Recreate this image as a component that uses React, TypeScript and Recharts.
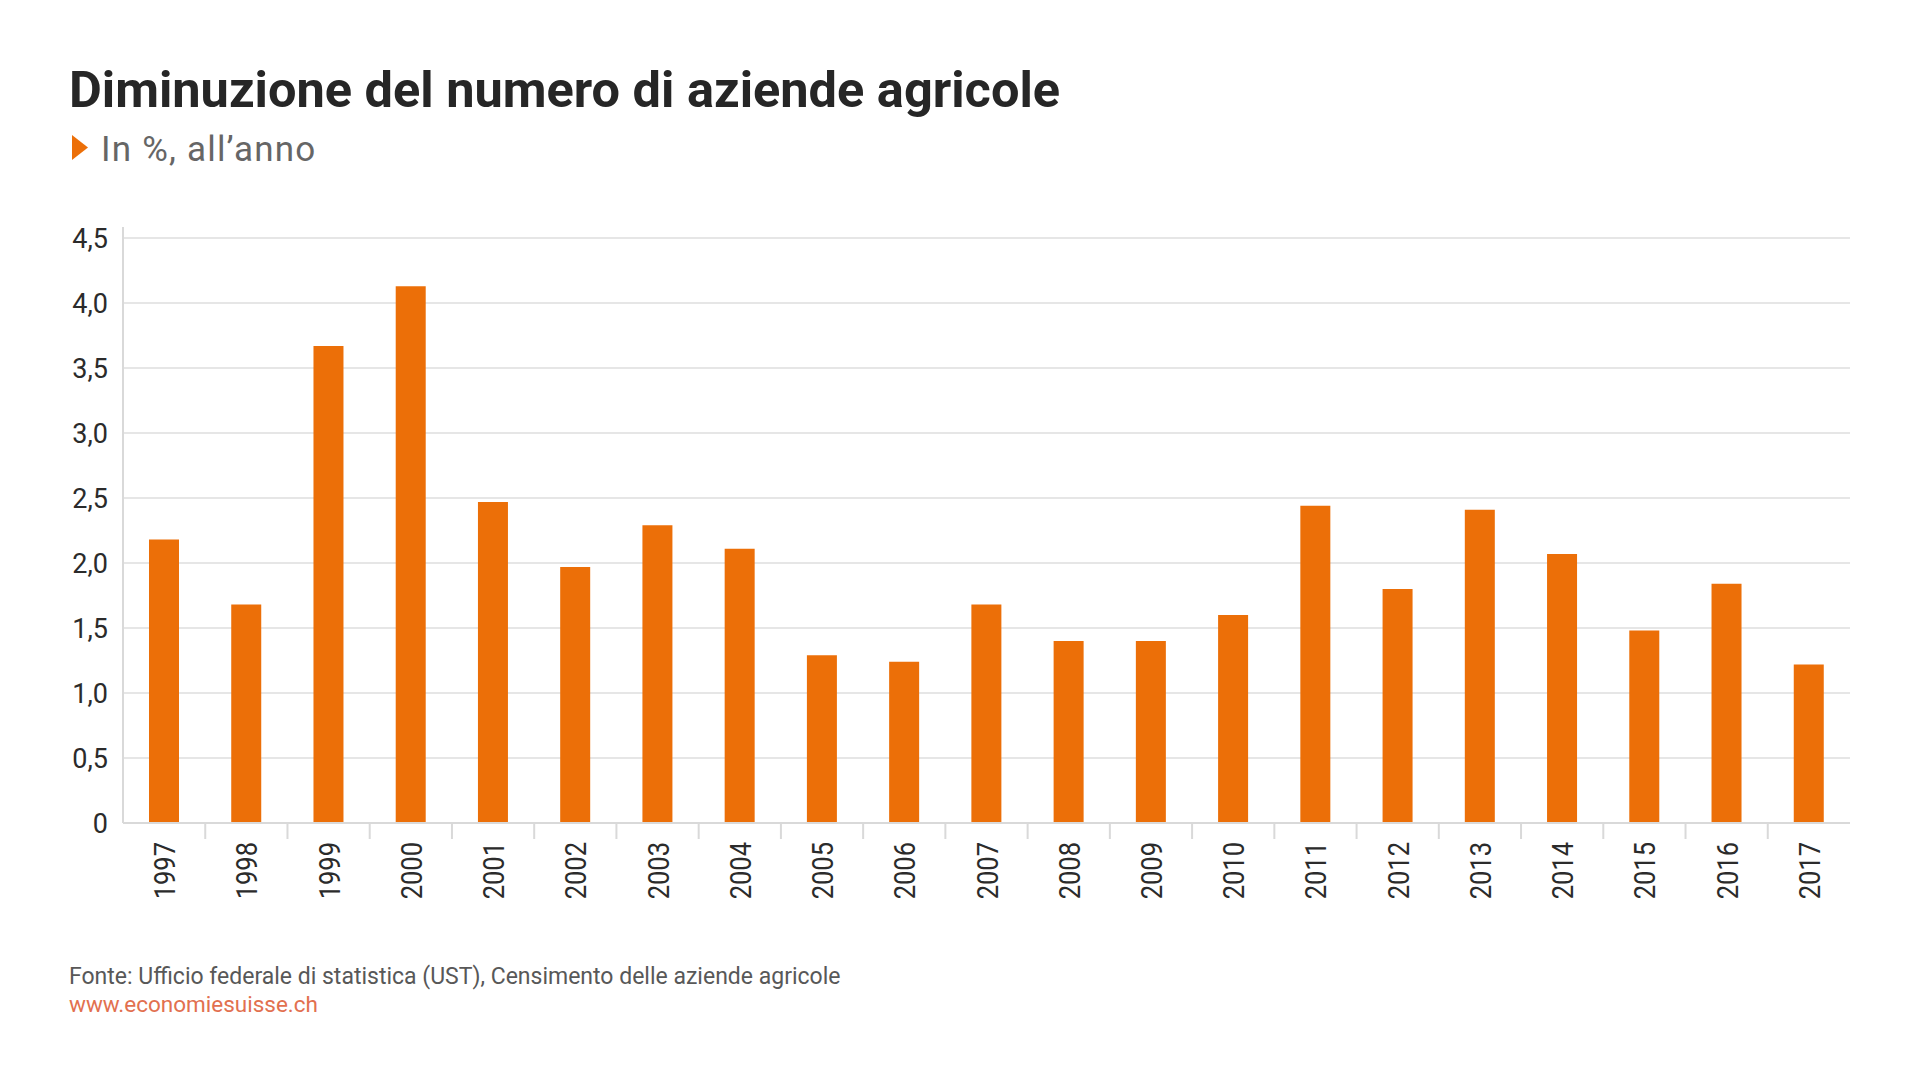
import React from "react";
import { BarChart, Bar, XAxis, YAxis, CartesianGrid } from "recharts";

const years = ["1997","1998","1999","2000","2001","2002","2003","2004","2005","2006","2007","2008","2009","2010","2011","2012","2013","2014","2015","2016","2017"];
const decline = [2.18,1.68,3.67,4.13,2.47,1.97,2.29,2.11,1.29,1.24,1.68,1.40,1.40,1.60,2.44,1.80,2.41,2.07,1.48,1.84,1.22];
const yTicks = [0,0.5,1,1.5,2,2.5,3,3.5,4,4.5];
const Y_MAX = 4.585;

const TITLE = "Diminuzione del numero di aziende agricole";
const SUBTITLE = "In %, all\u2019anno";
const SOURCE = "Fonte: Ufficio federale di statistica (UST), Censimento delle aziende agricole";
const LINK = "www.economiesuisse.ch";

const data = years.map((y, i) => ({ year: y, value: decline[i] }));

const W = 1920;
const H = 1080;
const MARGIN = { top: 227, right: 70, bottom: 157, left: 63 };
const YAXIS_W = 60;
const PLOT_W = W - MARGIN.left - MARGIN.right - YAXIS_W;
const BAND = PLOT_W / years.length;
const ORANGE = "#EC6F08";
const FONT = "Roboto, 'Noto Sans', sans-serif";

const XTick = (props: any) => {
  const { x, y, payload, index } = props;
  return (
    <g>
      {index > 0 && (
        <line x1={x - BAND / 2} x2={x - BAND / 2} y1={y} y2={y + 16} stroke="#d9d9d9" strokeWidth={2} />
      )}
      <text
        transform={`translate(${x + 11},${y + 19}) rotate(-90) scale(0.85,1)`}
        textAnchor="end"
        fontSize={30}
        fontFamily={FONT}
        fill="#2b2b2b"
      >
        {payload.value}
      </text>
    </g>
  );
};

const fmt = (v: number) => (v === 0 ? "0" : v.toFixed(1).replace(".", ","));

const gridGen = (props: any) => {
  const scale = props?.yAxis?.scale;
  const vals = yTicks.filter((v) => v > 0);
  if (typeof scale === "function") return vals.map((v) => scale(v));
  if (scale && typeof scale.map === "function") return vals.map((v) => scale.map(v));
  const off = props?.offset;
  if (off && typeof off.top === "number") {
    return vals.map((v) => off.top + off.height * (1 - v / Y_MAX));
  }
  return [];
};

export default function App() {
  return (
    <div style={{ position: "absolute", left: 0, top: 0, width: W, height: H, background: "#fff", fontFamily: FONT }}>
      <BarChart width={W} height={H} data={data} margin={MARGIN}>
        <CartesianGrid vertical={false} stroke="#e6e6e6" strokeWidth={2} horizontalCoordinatesGenerator={gridGen} />
        <XAxis
          dataKey="year"
          interval={0}
          tick={<XTick />}
          tickLine={false}
          tickSize={0}
          tickMargin={0}
          height={100}
          axisLine={{ stroke: "#d9d9d9", strokeWidth: 2 }}
        />
        <YAxis
          width={YAXIS_W}
          domain={[0, Y_MAX]}
          ticks={yTicks}
          tickFormatter={fmt}
          tickLine={false}
          tickSize={0}
          tickMargin={15}
          axisLine={{ stroke: "#d9d9d9", strokeWidth: 2 }}
          tick={{ fontSize: 27, fill: "#2b2b2b", fontFamily: FONT }}
        />
        <Bar dataKey="value" fill={ORANGE} barSize={30} isAnimationActive={false} />
      </BarChart>
      <svg width={W} height={H} style={{ position: "absolute", left: 0, top: 0, pointerEvents: "none" }}>
        <text x={69} y={106.5} fontSize={50.5} fontWeight={700} fill="#262626" fontFamily={FONT}>
          {TITLE}
        </text>
        <polygon points="72,135 88,147.5 72,160" fill={ORANGE} />
        <text x={101} y={161} fontSize={35} letterSpacing={1.2} fill="#666666" fontFamily={FONT}>
          {SUBTITLE}
        </text>
        <text x={69} y={984} fontSize={23} fill="#585858" fontFamily={FONT}>
          {SOURCE}
        </text>
        <text x={69} y={1011.5} fontSize={22.5} fill="#E2704F" fontFamily={FONT}>
          {LINK}
        </text>
      </svg>
    </div>
  );
}
